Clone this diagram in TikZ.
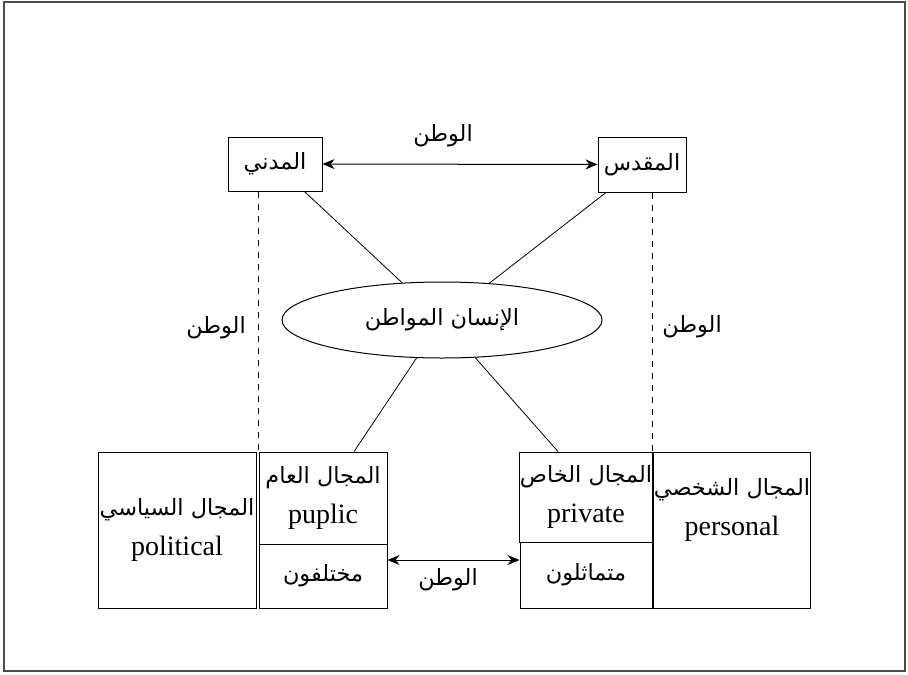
\documentclass[tikz,border=0pt]{standalone}
\usepackage{fontspec}
\setmainfont{Liberation Serif}
\newfontfamily\arabicfont[Script=Arabic,Scale=0.8]{DejaVu Sans}
\TeXXeTstate=1
\newcommand{\artext}[1]{{\arabicfont\beginR #1\endR}}
\usetikzlibrary{shapes.geometric,arrows.meta}

\begin{document}
\begin{tikzpicture}[x=0.5pt,y=-0.5pt,
    every node/.style={font=\fontsize{14}{17}\selectfont},
    box/.style={draw,rectangle,inner sep=0pt,align=center,line width=0.5pt},
    citizen/.style={draw,ellipse,minimum width=160pt,minimum height=38pt,inner sep=0pt,line width=0.5pt},
    arrow/.style={{Stealth[length=6pt,width=5pt]}-{Stealth[length=6pt,width=5pt]},line width=0.5pt},
    link/.style={line width=0.4pt},
    border/.style={dashed,line width=0.4pt}
]
\useasboundingbox (0,0) rectangle (908,674);
\draw[line width=0.8pt,black!70] (4,2) rectangle (905,671);

% Top layer
\node[box,minimum width=47pt,minimum height=27pt] (madani) at (275,164) {\artext{المدني}};
\node[box,minimum width=44pt,minimum height=27.5pt] (muqaddas) at (642,164.5) {\artext{المقدس}};

% Citizen
\node[citizen] (insan) at (442,320) {\artext{الإنسان المواطن}};

% Bottom layer, left
\node[box,minimum width=79pt,minimum height=78pt] (siyasi) at (177,530) {\artext{المجال السياسي}\\[3pt] political};
\node[box,minimum width=64pt,minimum height=46pt] (aam) at (323,498) {\artext{المجال العام}\\[3pt] puplic};
\node[box,minimum width=64pt,minimum height=32pt] (mukhtalif) at (323,576) {\artext{مختلفون}};

% Bottom layer, right
\node[box,minimum width=66pt,minimum height=45pt] (khas) at (586,497) {\artext{المجال الخاص}\\[3pt] private};
\node[box,minimum width=66pt,minimum height=33pt] (mutamathil) at (586,575) {\artext{متماثلون}};
\node[box,minimum width=78pt,minimum height=78pt] (shakhsi) at (732,530) {\artext{المجال الشخصي}\\[3pt] personal\\[6pt]};

% Connections
\draw[arrow] (madani) -- (muqaddas);
\draw[link] (madani) -- (insan);
\draw[link] (muqaddas) -- (insan);
\draw[link] (insan) -- (aam);
\draw[link] (insan) -- ([xshift=-14pt]khas.north);
\draw[border] (madani.south -| aam.north west) -- (aam.north west);
\draw[border] (muqaddas.south -| khas.north east) -- (khas.north east);
\draw[arrow] ([yshift=8pt]mukhtalif.east) -- ([yshift=8pt]mukhtalif.east -| mutamathil.west);

% Labels
\node (watan1) at (443,136) {\artext{الوطن}};
\node (watan2) at (216,328) {\artext{الوطن}};
\node (watan3) at (692,327) {\artext{الوطن}};
\node (watan4) at (448,580) {\artext{الوطن}};

\end{tikzpicture}
\end{document}
